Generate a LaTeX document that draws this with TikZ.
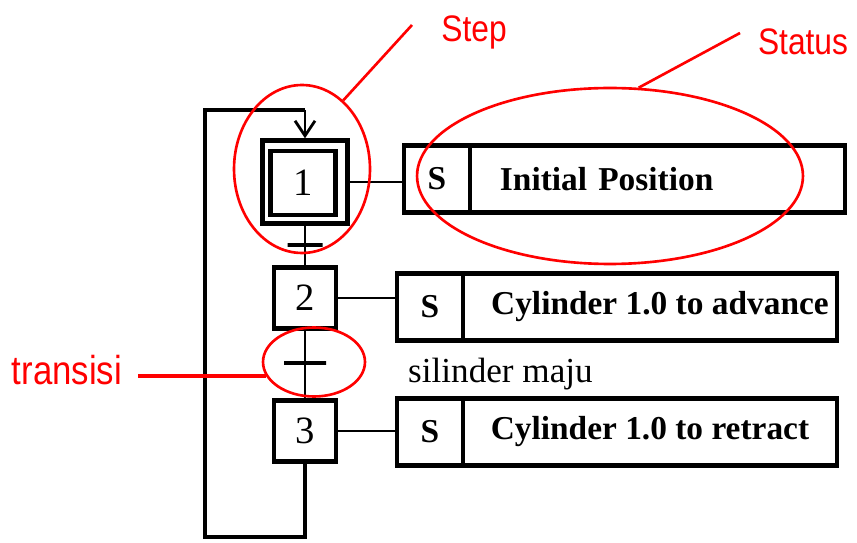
\documentclass[tikz,border=0pt]{standalone}
\usepackage{fontspec}
\setmainfont{Liberation Serif}
\newfontfamily\narrowsans[FakeStretch=0.86]{Liberation Sans}
\usetikzlibrary{arrows.meta,positioning,shapes.geometric}

\begin{document}
\begin{tikzpicture}[
    x=0.02cm, y=-0.02cm,
    stepbox/.style={draw, line width=2.5pt, minimum width=1.24cm, minimum height=1.22cm, inner sep=0pt, font=\fontsize{22}{24}\selectfont},
    actcell/.style={draw, line width=2.3pt, minimum height=1.34cm, inner sep=0pt, outer sep=0pt, font=\bfseries\fontsize{19}{22}\selectfont},
    tbar/.style={draw, line width=2.3pt, minimum height=0pt, inner sep=0pt, outer sep=0pt},
    link/.style={line width=1.6pt},
    loopline/.style={line width=2.5pt},
    redring/.style={draw=red, line width=1.5pt, ellipse, inner sep=0pt},
    redline/.style={red, line width=1.5pt},
    redtext/.style={red, font=\narrowsans\fontsize{21}{24}\selectfont}
  ]
  \useasboundingbox (0,0) rectangle (857,543);

  \node[stepbox, minimum width=1.7cm, minimum height=1.66cm] (step1) at (305,182) {};
  \node[stepbox, minimum width=1.3cm, minimum height=1.28cm] (step1in) at (303,183) {1};
  \node[tbar, minimum width=0.7cm] (t1) at (305,245) {};
  \node[stepbox] (step2) at (305,298) {2};
  \node[tbar, minimum width=0.84cm] (t2) at (305,363) {};
  \node[stepbox] (step3) at (305,431) {3};

  \node[actcell, minimum width=1.32cm] (s1) at (437,179) {S};
  \node[actcell, minimum width=7.5cm, text width=6.3cm, inner xsep=0.6cm, align=left, right=0pt of s1] (a1) {Initial Position};
  \node[actcell, minimum width=1.32cm] (s2) at (430,307) {S};
  \node[actcell, minimum width=7.48cm, right=0pt of s2] (a2) {\hspace*{0.4cm}Cylinder 1.0 to advance};
  \node[actcell, minimum width=1.32cm] (s3) at (430,432) {S};
  \node[actcell, minimum width=7.48cm, right=0pt of s3] (a3) {Cylinder 1.0 to retract};
  \node[anchor=base west, font=\fontsize{20}{22}\selectfont] (cond) at (402,382) {silinder maju};

  \foreach \a/\b in {step1/t1, t1/step2, step2/t2, t2/step3} {
    \draw[link] (\a) -- (\b);
  }
  \foreach \a/\b in {step1/s1, step2/s2, step3/s3} {
    \draw[link] (\a.east) -- (\a.east -| \b.west);
  }

  \coordinate (loopbot) at (205,537);
  \coordinate (looptop) at (205,110);
  \draw[loopline] (step3.south) |- (loopbot) -- (looptop) -- (looptop -| step1.north);
  \draw[link, -{Straight Barb[length=3mm, width=4mm]}] (looptop -| step1.north) -- (step1.north);

  \node[redring, minimum width=2.72cm, minimum height=3.36cm] (ringstep) at (302,169) {};
  \node[redring, minimum width=7.72cm, minimum height=3.52cm] (ringstatus) at (610,176) {};
  \node[redring, minimum width=2.04cm, minimum height=1.38cm] (ringtrans) at (314,362) {};

  \node[redtext] (labstep) at (474,32) {Step};
  \node[redtext] (labstatus) at (803,42) {Status};
  \node[redtext, font=\narrowsans\fontsize{23}{26}\selectfont] (labtrans) at (67,370) {transisi};
  \coordinate (steptip) at (412,25);
  \coordinate (statustip) at (740,33);
  \draw[redline] (ringstep.59) -- (steptip);
  \draw[redline] (ringstatus.72) -- (statustip);
  \draw[redline, line width=2.4pt] ([xshift=0.2cm]labtrans.east |- ringtrans.196) -- (ringtrans.196);
\end{tikzpicture}
\end{document}
